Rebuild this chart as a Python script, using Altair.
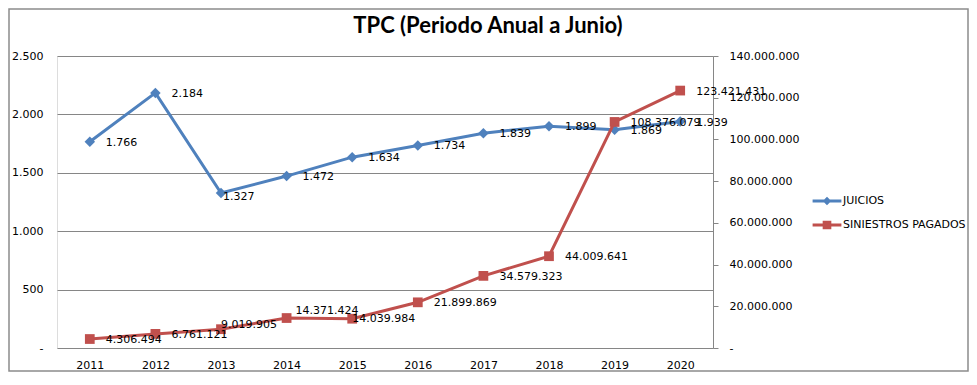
import altair as alt
import pandas as pd

years = ["2011", "2012", "2013", "2014", "2015", "2016", "2017", "2018", "2019", "2020"]
juicios = [1766, 2184, 1327, 1472, 1634, 1734, 1839, 1899, 1869, 1939]
siniestros = [4306494, 6761121, 9019905, 14371424, 14039984, 21899869,
              34579323, 44009641, 108376079, 123421431]
series_names = ["JUICIOS", "SINIESTROS PAGADOS"]
title_text = "TPC (Periodo Anual a Junio)"

BLUE = "#4F81BD"
RED = "#C0504D"
GRAY = "#868686"
FONT = "DejaVu Sans"


def fmt(v):
    return f"{v:,}".replace(",", ".")


rows = []
for y, j in zip(years, juicios):
    rows.append({"year": y, "series": series_names[0], "value": j, "label": fmt(j)})
for y, s in zip(years, siniestros):
    rows.append({"year": y, "series": series_names[1], "value": s, "label": fmt(s)})
df = pd.DataFrame(rows)

label_expr = ("datum.value == 0 ? '-\u00a0\u00a0' : "
              "replace(format(datum.value, ','), regexp(',', 'g'), '.')")
label_expr_r = ("datum.value == 0 ? '-' : "
                "replace(format(datum.value, ','), regexp(',', 'g'), '.')")

x_enc = alt.X("year:O", scale=alt.Scale(type="point", padding=0.5),
              axis=alt.Axis(title=None, labelAngle=0, ticks=False, tickSize=0, domain=False,
                            labelPadding=11, labelFont=FONT, labelFontSize=11,
                            labelColor="black"))

y_left = alt.Y("value:Q", scale=alt.Scale(domain=[0, 2500], nice=False, zero=True),
               axis=alt.Axis(title=None, orient="left", values=[0, 500, 1000, 1500, 2000, 2500],
                             labelExpr=label_expr, ticks=False, tickSize=0, domain=False,
                             grid=True, gridColor=GRAY, gridWidth=1, labelPadding=14,
                             labelFont=FONT, labelFontSize=11, labelColor="black"))

y_right = alt.Y("value:Q", scale=alt.Scale(domain=[0, 140000000], nice=False, zero=True),
                axis=alt.Axis(title=None, orient="right",
                              values=[0, 20000000, 40000000, 60000000, 80000000,
                                      100000000, 120000000, 140000000],
                              labelExpr=label_expr_r, ticks=True, tickSize=5, tickColor=GRAY,
                              domain=True, domainColor=GRAY, grid=False, labelPadding=11,
                              labelFont=FONT, labelFontSize=11, labelColor="black"))

text_style = dict(align="left", baseline="middle", font=FONT, fontSize=11, color="black")

# JUICIOS (left axis)
bj = alt.Chart(df).transform_filter(alt.datum.series == series_names[0])
line_j = bj.mark_line(strokeWidth=3, color=BLUE).encode(x=x_enc, y=y_left)
pts_j = bj.mark_point(shape="diamond", filled=True, size=110, color=BLUE, opacity=1).encode(
    x=x_enc, y=y_left)
txt_j = bj.transform_filter(alt.datum.year != "2013").mark_text(dx=16, dy=1, **text_style).encode(
    x=x_enc, y=y_left, text="label:N")
txt_j2 = bj.transform_filter(alt.datum.year == "2013").mark_text(dx=2, dy=4, **text_style).encode(
    x=x_enc, y=y_left, text="label:N")
blue_layer = alt.layer(line_j, pts_j, txt_j, txt_j2)

# SINIESTROS PAGADOS (right axis)
bs = alt.Chart(df).transform_filter(alt.datum.series == series_names[1])
line_s = bs.mark_line(strokeWidth=3, color=RED).encode(x=x_enc, y=y_right)
pts_s = bs.mark_point(shape="square", filled=True, size=95, color=RED, opacity=1).encode(
    x=x_enc, y=y_right)
exc = ["2013", "2014", "2015"]
txt_s = bs.transform_filter(~alt.FieldOneOfPredicate(field="year", oneOf=exc)).mark_text(
    dx=16, dy=1, **text_style).encode(x=x_enc, y=y_right, text="label:N")
txt_s13 = bs.transform_filter(alt.datum.year == "2013").mark_text(dx=0, dy=-4, **text_style).encode(
    x=x_enc, y=y_right, text="label:N")
txt_s14 = bs.transform_filter(alt.datum.year == "2014").mark_text(dx=9, dy=-7, **text_style).encode(
    x=x_enc, y=y_right, text="label:N")
txt_s15 = bs.transform_filter(alt.datum.year == "2015").mark_text(dx=0, dy=0, **text_style).encode(
    x=x_enc, y=y_right, text="label:N")
red_layer = alt.layer(line_s, pts_s, txt_s, txt_s13, txt_s14, txt_s15)

# legend-only layer (no marks drawn; entries come from the explicit scale domain)
diamond_path = ("M-1.2,-0.125H1.2V0.125H-1.2Z"
                "M0,-0.36L0.36,0L0,0.36L-0.36,0Z")
square_path = ("M-1.2,-0.125H1.2V0.125H-1.2Z"
               "M-0.36,-0.36H0.36V0.36H-0.36Z")
legend = alt.Legend(title=None, orient="none", legendX=758, legendY=133, padding=0,
                    symbolSize=576, rowPadding=7, labelOffset=4, symbolStrokeWidth=0,
                    labelFont=FONT, labelFontSize=11, labelColor="black")
leg_layer = alt.Chart(df).transform_filter("false").mark_point(filled=True, opacity=1).encode(
    color=alt.Color("series:N", scale=alt.Scale(domain=series_names, range=[BLUE, RED]),
                    legend=legend),
    shape=alt.Shape("series:N", scale=alt.Scale(domain=series_names,
                                                range=[diamond_path, square_path]),
                    legend=legend),
)

# chart title and outer frame
title_mark = alt.Chart(pd.DataFrame({"t": [title_text]})).mark_text(
    font="Lato", fontSize=22, fontWeight="bold", color="black",
    align="center", baseline="alphabetic").encode(
    text="t:N", x=alt.value(431), y=alt.value(-23))

frame = alt.Chart(pd.DataFrame({"f": [0]})).mark_rect(
    fill=None, stroke="#8c8c8c", strokeWidth=1.5).encode(
    x=alt.value(-48), x2=alt.value(911), y=alt.value(-47), y2=alt.value(315))

chart = alt.layer(blue_layer, red_layer, leg_layer, title_mark, frame).resolve_scale(
    y="independent").properties(
    width=656, height=292,
    autosize=alt.AutoSizeParams(type="none"),
    padding={"left": 49, "top": 48, "right": 256, "bottom": 24},
).configure_view(stroke=GRAY, strokeWidth=1).configure(background="white")

chart.save("out.html", embed_options={"renderer": "svg", "actions": False})
